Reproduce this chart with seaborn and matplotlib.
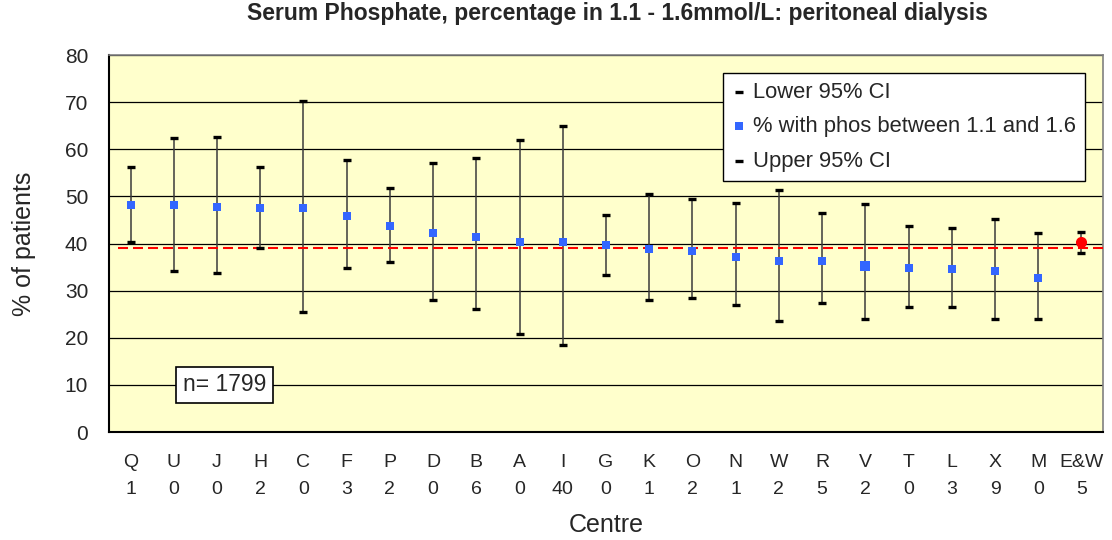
import matplotlib
matplotlib.use("Agg")
import matplotlib.pyplot as plt
import seaborn as sns
import pandas as pd
import numpy as np

centres = ["Q", "U", "J", "H", "C", "F", "P", "D", "B", "A", "I", "G", "K", "O",
           "N", "W", "R", "V", "T", "L", "X", "M", "E&W"]
counts = ["1", "0", "0", "2", "0", "3", "2", "0", "6", "0", "40", "0", "1", "2",
          "1", "2", "5", "2", "0", "3", "9", "0", "5"]
pct = [48.2, 48.2, 47.8, 47.5, 47.5, 45.9, 43.7, 42.2, 41.4, 40.3, 40.3, 39.6, 38.8, 38.4,
       37.2, 36.4, 36.4, 35.2, 34.9, 34.5, 34.1, 32.6, 40.3]
lower = [40.3, 34.2, 33.8, 39.1, 25.4, 34.9, 36.1, 28.1, 26.2, 20.8, 18.5, 33.4, 28.1, 28.5,
         26.9, 23.5, 27.3, 23.9, 26.5, 26.5, 23.9, 23.9, 37.9]
upper = [56.3, 62.4, 62.7, 56.3, 70.3, 57.8, 51.7, 57.0, 58.2, 62.0, 65.0, 46.0, 50.5, 49.4,
         48.6, 51.3, 46.4, 48.3, 43.7, 43.3, 45.2, 42.2, 42.5]
national = 39.1
n_total = 1799

df = pd.DataFrame({"x": np.arange(len(centres)), "centre": centres, "pct": pct,
                   "lower": lower, "upper": upper})
centres_df = df.iloc[:-1]
ew_df = df.iloc[-1:]

sns.set_style("white")
plt.rcParams["font.family"] = ["Liberation Sans", "DejaVu Sans"]

fig = plt.figure(figsize=(11.12, 5.40), dpi=100)
ax = fig.add_axes([0.098, 0.2, 0.894, 0.698])
ax.set_facecolor("#FFFFCC")

ax.set_ylim(0, 80)
ax.set_xlim(-0.5, len(centres) - 0.5)
ax.set_yticks(np.arange(0, 81, 10))
ax.yaxis.grid(True, color="black", linewidth=0.9)
ax.set_axisbelow(True)

# high-low lines
ax.vlines(df["x"], df["lower"], df["upper"], color="#3a3a3a", linewidth=1.1, zorder=2)

# reference line
ax.hlines(national, -0.3, len(centres) - 0.5, colors="red", linestyles=(0, (4.8, 2.4)),
          linewidth=1.5, zorder=3)

sns.scatterplot(data=df, x="x", y="lower", marker="_", s=36, color="black",
                linewidth=2.4, ax=ax, zorder=4, label="Lower 95% CI")
sns.scatterplot(data=centres_df, x="x", y="pct", marker="s", s=28, color="#3366FF",
                linewidth=0, ax=ax, zorder=5, label="% with phos between 1.1 and 1.6")
sns.scatterplot(data=df, x="x", y="upper", marker="_", s=36, color="black",
                linewidth=2.4, ax=ax, zorder=4, label="Upper 95% CI")
# highlighted centre V (larger marker)
sns.scatterplot(data=centres_df[centres_df["centre"] == "V"], x="x", y="pct", marker="s",
                s=55, color="#3366FF", linewidth=0, ax=ax, zorder=6, legend=False)
sns.scatterplot(data=ew_df, x="x", y="pct", marker="o", s=64, color="red",
                linewidth=0, ax=ax, zorder=6, legend=False)

leg = ax.legend(loc="upper right", bbox_to_anchor=(0.982, 0.953), fontsize=15.8,
                frameon=True, fancybox=False, edgecolor="black", framealpha=1,
                handletextpad=0.3, handlelength=0.7, borderpad=0.4, labelspacing=0.62,
                borderaxespad=0)
leg.get_frame().set_linewidth(1.0)

ax.set_xticks(df["x"])
ax.set_xticklabels([f"{c}\n{n}" for c, n in zip(centres, counts)], fontsize=14,
                   linespacing=1.75)
ax.set_xticks(np.arange(-0.5, len(centres), 1), minor=True)
ax.tick_params(axis="x", which="major", length=0, pad=16)
ax.tick_params(axis="x", which="minor", direction="inout", length=9, width=1, color="black")
ax.tick_params(axis="y", which="major", direction="out", length=7, width=1, color="black",
               labelsize=15, pad=8)

for side in ["left", "bottom"]:
    ax.spines[side].set_color("black")
    ax.spines[side].set_linewidth(1.5)
for side in ["top", "right"]:
    ax.spines[side].set_color("#808080")
    ax.spines[side].set_linewidth(1.2)

ax.set_xlabel("Centre", fontsize=18, labelpad=11)
ax.set_ylabel("% of patients", fontsize=18)
ax.yaxis.set_label_coords(-0.0735, 0.5)
ax.set_title("Serum Phosphate, percentage in 1.1 - 1.6mmol/L: peritoneal dialysis",
             fontsize=16.5, fontweight="bold", pad=25.5, x=0.511)

ax.text(0.116, 0.125, f"n= {n_total}", transform=ax.transAxes, fontsize=16.5, ha="center",
        va="center", zorder=7,
        bbox=dict(boxstyle="square,pad=0.3", facecolor="white", edgecolor="black",
                  linewidth=1.2))

fig.savefig("out.png", dpi=100)
